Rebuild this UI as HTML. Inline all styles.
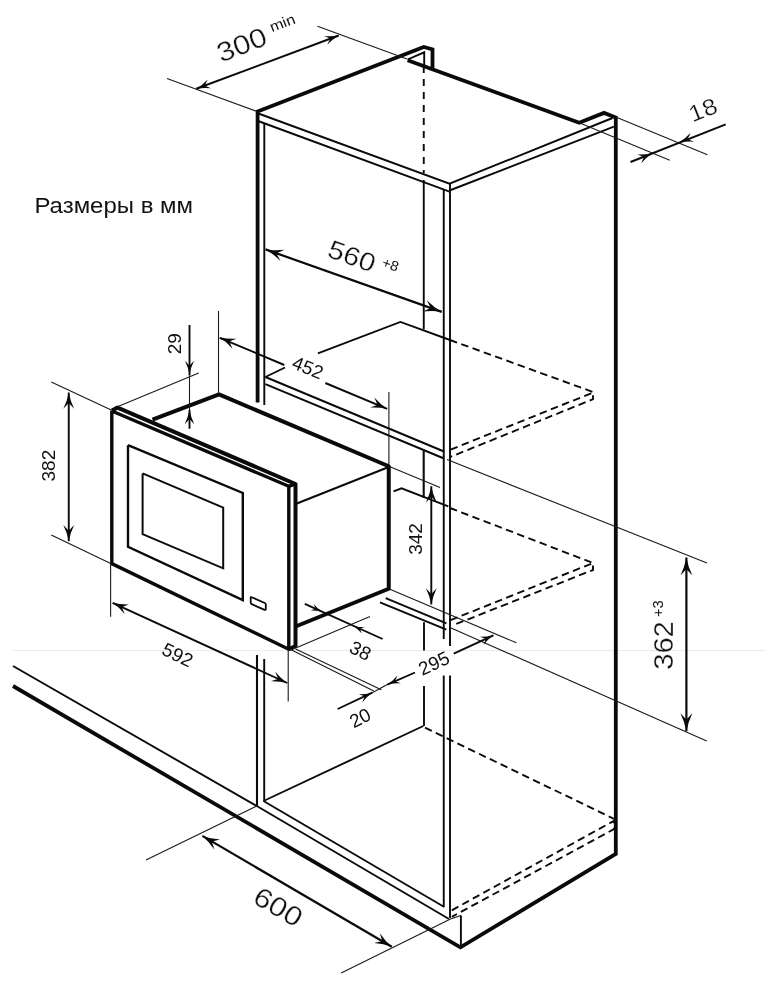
<!DOCTYPE html>
<html lang="ru"><head><meta charset="utf-8"><title>Размеры в мм</title>
<style>
html,body{margin:0;padding:0;background:#fff;}
body{width:765px;height:1000px;overflow:hidden;}
svg{display:block;filter:grayscale(1);}
path{fill:none;stroke:#0a0a0a;stroke-linecap:butt;stroke-linejoin:miter;}
.k{stroke-width:3.8;}
.kk{stroke-width:4.0;stroke-linejoin:round;}
.k3{stroke-width:3.4;stroke-linejoin:round;}
.m2{stroke-width:2.1;}
.r1{stroke-width:2.4;}
.r2{stroke-width:2.0;}
.m{stroke-width:1.9;}
.rb{stroke-width:1.8;stroke-linejoin:round;}
.d{stroke-width:1.9;}
.d2{stroke-width:2.2;}
.n{stroke-width:1.1;stroke:#1a1a1a;}
.g{stroke-width:1;stroke:#ebebeb;}
.ah{fill:#0a0a0a;stroke:none;}
text{fill:#111;}
.t1{stroke:#fff;stroke-width:0.3;}
.t3{font-family:"Liberation Sans","DejaVu Sans",sans-serif;}
.t1{font-family:"Liberation Sans","DejaVu Sans",sans-serif;}
.t2{font-family:"Liberation Sans","DejaVu Sans",sans-serif;}
</style></head><body>
<svg width="765" height="1000" viewBox="0 0 765 1000">
<rect width="765" height="1000" fill="#fff"/>
<path class="g" d="M13.00,650.50 L765.00,650.50"/>
<path class="k" d="M257.60,402.50 L257.60,111.50 L423.75,47.00 L432.50,49.50 L432.50,69.50"/>
<path class="k" d="M407.60,60.30 L579.20,122.70 L604.00,112.90 L615.80,117.50 L615.80,854.00 L460.40,947.30 L13.00,686.00"/>
<path class="m2" d="M257.00,655.00 L257.00,806.00"/>
<path class="m" d="M257.00,113.00 L449.50,183.75 L612.50,118.00"/>
<path class="m" d="M258.75,121.25 L449.50,191.60"/>
<path class="m" d="M449.50,190.50 L613.90,126.60"/>
<path class="m" d="M264.30,123.50 L264.30,405.00"/>
<path class="m" d="M264.20,659.00 L264.20,801.00"/>
<path class="m" d="M443.75,189.50 L443.75,639.00"/>
<path class="m" d="M443.75,675.50 L443.75,907.00"/>
<path class="m" d="M450.00,183.75 L450.00,646.00"/>
<path class="m" d="M450.00,675.50 L450.00,918.00"/>
<path class="m" d="M407.60,59.50 L424.20,52.30 L424.20,66.00"/>
<path class="m" d="M423.75,66.00 L423.75,173.00" stroke-dasharray="7 6"/>
<path class="m" d="M423.75,180.00 L423.75,329.30"/>
<path class="m" d="M265.40,377.00 L285.00,367.50"/>
<path class="m" d="M317.90,353.40 L400.40,321.90 L450.00,340.00"/>
<path class="m" d="M450.00,340.00 L593.00,392.00" stroke-dasharray="7.5 4.5"/>
<path class="m" d="M265.40,377.00 L444.00,451.50"/>
<path class="m" d="M265.40,384.20 L444.00,458.50"/>
<path class="m" d="M450.60,449.60 L593.00,392.60 L593.00,399.20 L450.60,456.80" stroke-dasharray="7.5 4.5"/>
<path class="n" d="M447.00,459.60 L707.00,563.00"/>
<path class="m2" d="M423.70,451.00 L423.70,498.00"/>
<path class="m" d="M393.50,491.30 L401.50,488.30 L448.30,506.30"/>
<path class="m" d="M450.00,508.00 L593.00,563.00" stroke-dasharray="7.5 4.5"/>
<path class="n" d="M388.75,466.30 L440.00,487.50"/>
<path class="m" d="M385.70,598.20 L446.40,623.30"/>
<path class="m" d="M380.00,602.40 L446.40,629.60"/>
<path class="m" d="M450.50,620.20 L593.00,563.00 L593.00,570.00 L452.60,625.40" stroke-dasharray="7.5 4.5"/>
<path class="n" d="M450.00,627.50 L706.70,741.00"/>
<path class="n" d="M389.90,589.20 L516.40,642.80"/>
<path class="m" d="M424.00,622.30 L424.00,650.50"/>
<path class="m" d="M424.00,686.00 L424.00,726.00"/>
<path class="m" d="M263.50,801.00 L423.30,726.00"/>
<path class="m" d="M425.00,727.70 L613.90,818.80" stroke-dasharray="7.5 4.5"/>
<path class="m" d="M263.50,801.00 L444.30,907.00"/>
<path class="m" d="M13.00,666.00 L256.80,806.00 L449.00,919.00"/>
<path class="m" d="M451.80,910.30 L613.90,820.80 L613.90,829.20 L451.80,916.80" stroke-dasharray="7.5 4.5"/>
<path class="n" d="M450.50,919.00 L460.90,915.50"/>
<path class="m" d="M460.90,915.50 L460.90,947.00"/>
<path class="k3" d="M111.80,410.50 L111.80,563.60 L288.80,649.30 L288.80,486.30 L111.80,411.00"/>
<path class="kk" d="M111.80,410.50 L117.50,407.60 L295.50,484.00 L295.50,646.00 L288.80,649.30"/>
<path class="k3" d="M288.80,486.30 L295.50,484.00"/>
<path class="r1" d="M128.00,445.20 L242.80,493.00 L242.80,600.00 L128.00,546.80 L128.00,445.20"/>
<path class="r2" d="M142.60,473.40 L223.20,507.60 L223.20,568.30 L142.60,534.20 L142.60,473.40"/>
<path class="rb" d="M251.7,597.2 L264.8,603 Q265.8,603.5 265.8,604.6 L265.8,609 Q265.8,610.3 264.6,609.8 L251.7,604.2 Q250.7,603.7 250.7,602.6 L250.7,597.8 Q250.7,596.7 251.7,597.2Z"/>
<path class="kk" d="M152.50,419.70 L219.00,394.40 L388.75,466.25 L388.75,588.75 L296.25,626.25"/>
<path class="m" d="M296.25,503.75 L388.75,467.00"/>
<path class="n" d="M167.00,78.50 L257.00,111.50"/>
<path class="n" d="M317.50,26.25 L407.00,59.00"/>
<path class="d" d="M196.25,88.75 L338.75,35.50"/>
<path class="ah" transform="translate(196.25,88.75) rotate(159.51) scale(0.78)" d="M0,0 Q-9,-1.6 -18,-6 Q-14.5,-2.6 -12.5,-0.9 L-12.5,0.9 Q-14.5,2.6 -18,6 Q-9,1.6 0,0Z"/>
<path class="ah" transform="translate(338.75,35.50) rotate(-20.49) scale(0.78)" d="M0,0 Q-9,-1.6 -18,-6 Q-14.5,-2.6 -12.5,-0.9 L-12.5,0.9 Q-14.5,2.6 -18,6 Q-9,1.6 0,0Z"/>
<path class="n" d="M617.00,117.50 L707.40,154.70"/>
<path class="n" d="M579.20,122.70 L669.80,160.20"/>
<path class="d" d="M630.50,162.00 L725.70,124.30"/>
<path class="ah" transform="translate(652.50,153.20) rotate(-23.54) scale(0.8)" d="M0,0 Q-9,-1.6 -18,-6 Q-14.5,-2.6 -12.5,-0.9 L-12.5,0.9 Q-14.5,2.6 -18,6 Q-9,1.6 0,0Z"/>
<path class="ah" transform="translate(679.00,142.60) rotate(158.41) scale(0.8)" d="M0,0 Q-9,-1.6 -18,-6 Q-14.5,-2.6 -12.5,-0.9 L-12.5,0.9 Q-14.5,2.6 -18,6 Q-9,1.6 0,0Z"/>
<path class="d2" d="M265.50,249.40 L441.80,311.90"/>
<path class="ah" transform="translate(265.50,249.40) rotate(-160.48) scale(1.0)" d="M0,0 Q-9,-1.6 -18,-6 Q-14.5,-2.6 -12.5,-0.9 L-12.5,0.9 Q-14.5,2.6 -18,6 Q-9,1.6 0,0Z"/>
<path class="ah" transform="translate(441.80,311.90) rotate(19.52) scale(1.0)" d="M0,0 Q-9,-1.6 -18,-6 Q-14.5,-2.6 -12.5,-0.9 L-12.5,0.9 Q-14.5,2.6 -18,6 Q-9,1.6 0,0Z"/>
<path class="n" d="M218.50,311.00 L218.50,394.00"/>
<path class="n" d="M388.90,392.00 L388.90,466.00"/>
<path class="d" d="M219.70,337.80 L284.30,365.00"/>
<path class="ah" transform="translate(219.70,337.30) rotate(-156.79) scale(0.9)" d="M0,0 Q-9,-1.6 -18,-6 Q-14.5,-2.6 -12.5,-0.9 L-12.5,0.9 Q-14.5,2.6 -18,6 Q-9,1.6 0,0Z"/>
<path class="d" d="M325.30,383.00 L387.20,408.80"/>
<path class="ah" transform="translate(387.20,408.80) rotate(22.63) scale(0.9)" d="M0,0 Q-9,-1.6 -18,-6 Q-14.5,-2.6 -12.5,-0.9 L-12.5,0.9 Q-14.5,2.6 -18,6 Q-9,1.6 0,0Z"/>
<path class="n" d="M118.00,406.50 L198.75,373.00"/>
<path class="d" d="M189.50,325.00 L189.50,375.50"/>
<path class="ah" transform="translate(189.50,374.50) rotate(90.00) scale(0.76)" d="M0,0 Q-9,-1.6 -18,-6 Q-14.5,-2.6 -12.5,-0.9 L-12.5,0.9 Q-14.5,2.6 -18,6 Q-9,1.6 0,0Z"/>
<path class="d" d="M189.50,410.00 L189.50,428.75"/>
<path class="ah" transform="translate(189.50,409.80) rotate(-90.00) scale(0.8)" d="M0,0 Q-9,-1.6 -18,-6 Q-14.5,-2.6 -12.5,-0.9 L-12.5,0.9 Q-14.5,2.6 -18,6 Q-9,1.6 0,0Z"/>
<path class="n" d="M189.50,375.50 L189.50,410.00"/>
<path class="n" d="M51.25,382.00 L111.25,410.00"/>
<path class="n" d="M51.25,535.00 L111.25,563.75"/>
<path class="d" d="M68.75,392.50 L68.75,541.25"/>
<path class="ah" transform="translate(68.75,392.50) rotate(-90.00) scale(0.9)" d="M0,0 Q-9,-1.6 -18,-6 Q-14.5,-2.6 -12.5,-0.9 L-12.5,0.9 Q-14.5,2.6 -18,6 Q-9,1.6 0,0Z"/>
<path class="ah" transform="translate(68.75,541.25) rotate(90.00) scale(0.9)" d="M0,0 Q-9,-1.6 -18,-6 Q-14.5,-2.6 -12.5,-0.9 L-12.5,0.9 Q-14.5,2.6 -18,6 Q-9,1.6 0,0Z"/>
<path class="n" d="M110.60,563.60 L110.60,616.80"/>
<path class="n" d="M288.20,650.00 L288.20,701.40"/>
<path class="d" d="M112.60,602.80 L287.30,683.00"/>
<path class="ah" transform="translate(112.60,602.80) rotate(-155.34) scale(0.87)" d="M0,0 Q-9,-1.6 -18,-6 Q-14.5,-2.6 -12.5,-0.9 L-12.5,0.9 Q-14.5,2.6 -18,6 Q-9,1.6 0,0Z"/>
<path class="ah" transform="translate(287.30,683.00) rotate(24.66) scale(0.87)" d="M0,0 Q-9,-1.6 -18,-6 Q-14.5,-2.6 -12.5,-0.9 L-12.5,0.9 Q-14.5,2.6 -18,6 Q-9,1.6 0,0Z"/>
<path class="d" d="M431.30,486.25 L431.30,604.50"/>
<path class="ah" transform="translate(431.30,486.25) rotate(-90.00) scale(0.9)" d="M0,0 Q-9,-1.6 -18,-6 Q-14.5,-2.6 -12.5,-0.9 L-12.5,0.9 Q-14.5,2.6 -18,6 Q-9,1.6 0,0Z"/>
<path class="ah" transform="translate(431.30,604.50) rotate(90.00) scale(0.9)" d="M0,0 Q-9,-1.6 -18,-6 Q-14.5,-2.6 -12.5,-0.9 L-12.5,0.9 Q-14.5,2.6 -18,6 Q-9,1.6 0,0Z"/>
<path class="n" d="M291.00,650.00 L370.00,616.50"/>
<path class="d" d="M304.80,603.90 L382.60,639.00"/>
<path class="ah" transform="translate(322.00,611.70) rotate(24.39) scale(0.6)" d="M0,0 Q-9,-1.6 -18,-6 Q-14.5,-2.6 -12.5,-0.9 L-12.5,0.9 Q-14.5,2.6 -18,6 Q-9,1.6 0,0Z"/>
<path class="ah" transform="translate(353.50,625.90) rotate(-155.76) scale(0.6)" d="M0,0 Q-9,-1.6 -18,-6 Q-14.5,-2.6 -12.5,-0.9 L-12.5,0.9 Q-14.5,2.6 -18,6 Q-9,1.6 0,0Z"/>
<path class="n" d="M295.60,649.00 L381.30,689.70"/>
<path class="n" d="M289.60,649.00 L373.80,691.00"/>
<path class="d" d="M337.70,709.00 L372.30,692.70"/>
<path class="ah" transform="translate(372.30,692.70) rotate(-25.23) scale(0.72)" d="M0,0 Q-9,-1.6 -18,-6 Q-14.5,-2.6 -12.5,-0.9 L-12.5,0.9 Q-14.5,2.6 -18,6 Q-9,1.6 0,0Z"/>
<path class="n" d="M372.30,692.70 L387.30,684.60"/>
<path class="d" d="M387.30,684.60 L415.00,672.50"/>
<path class="ah" transform="translate(387.30,684.60) rotate(156.40) scale(0.72)" d="M0,0 Q-9,-1.6 -18,-6 Q-14.5,-2.6 -12.5,-0.9 L-12.5,0.9 Q-14.5,2.6 -18,6 Q-9,1.6 0,0Z"/>
<path class="d" d="M453.70,653.70 L493.40,635.30"/>
<path class="ah" transform="translate(493.40,635.30) rotate(-24.87) scale(0.72)" d="M0,0 Q-9,-1.6 -18,-6 Q-14.5,-2.6 -12.5,-0.9 L-12.5,0.9 Q-14.5,2.6 -18,6 Q-9,1.6 0,0Z"/>
<path class="d2" d="M686.40,557.50 L686.40,731.25"/>
<path class="ah" transform="translate(686.40,557.50) rotate(-90.00) scale(1.0)" d="M0,0 Q-9,-1.6 -18,-6 Q-14.5,-2.6 -12.5,-0.9 L-12.5,0.9 Q-14.5,2.6 -18,6 Q-9,1.6 0,0Z"/>
<path class="ah" transform="translate(686.40,731.25) rotate(90.00) scale(1.0)" d="M0,0 Q-9,-1.6 -18,-6 Q-14.5,-2.6 -12.5,-0.9 L-12.5,0.9 Q-14.5,2.6 -18,6 Q-9,1.6 0,0Z"/>
<path class="n" d="M146.00,860.00 L256.80,806.00"/>
<path class="n" d="M341.20,972.90 L450.50,919.00"/>
<path class="d2" d="M202.40,835.90 L391.80,946.80"/>
<path class="ah" transform="translate(202.40,835.90) rotate(-149.65) scale(0.95)" d="M0,0 Q-9,-1.6 -18,-6 Q-14.5,-2.6 -12.5,-0.9 L-12.5,0.9 Q-14.5,2.6 -18,6 Q-9,1.6 0,0Z"/>
<path class="ah" transform="translate(391.80,946.80) rotate(30.35) scale(0.95)" d="M0,0 Q-9,-1.6 -18,-6 Q-14.5,-2.6 -12.5,-0.9 L-12.5,0.9 Q-14.5,2.6 -18,6 Q-9,1.6 0,0Z"/>
<text class="t3" font-size="22.3" text-anchor="start" transform="translate(34.40,213.20) rotate(0) scale(1.075,1)">Размеры в мм</text>
<text class="t1" font-size="27" text-anchor="middle" transform="translate(245.06,53.42) rotate(-21) scale(1.15,1)">300</text>
<text class="t3" font-size="14.5" text-anchor="middle" transform="translate(284.15,27.62) rotate(-21) scale(1.12,1)">min</text>
<text class="t1" font-size="26" text-anchor="middle" transform="translate(348.92,264.45) rotate(20) scale(1.12,1)">560</text>
<text class="t3" font-size="14" text-anchor="middle" transform="translate(388.79,269.01) rotate(20) scale(1.05,1)">+8</text>
<text class="t1" font-size="23" text-anchor="middle" transform="translate(705.88,117.23) rotate(-22) scale(1.12,1)">18</text>
<text class="t1" font-size="27" text-anchor="middle" transform="translate(673.42,645.50) rotate(-90) scale(1.08,1)">362</text>
<text class="t3" font-size="14" text-anchor="middle" transform="translate(662.51,608.75) rotate(-90) scale(1.05,1)">+3</text>
<text class="t1" font-size="27" text-anchor="middle" transform="translate(273.57,914.87) rotate(30) scale(1.15,1)">600</text>
<text class="t2" font-size="19" text-anchor="middle" transform="translate(54.90,465.60) rotate(-90) scale(1.0,1)">382</text>
<text class="t2" font-size="19" text-anchor="middle" transform="translate(180.80,343.70) rotate(-90) scale(1.0,1)">29</text>
<text class="t2" font-size="19" text-anchor="middle" transform="translate(305.45,373.81) rotate(22) scale(1.0,1)">452</text>
<text class="t2" font-size="19" text-anchor="middle" transform="translate(174.82,660.71) rotate(26) scale(1.0,1)">592</text>
<text class="t2" font-size="19" text-anchor="middle" transform="translate(421.80,539.00) rotate(-90) scale(1.0,1)">342</text>
<text class="t2" font-size="19" text-anchor="middle" transform="translate(357.41,656.56) rotate(27) scale(1.0,1)">38</text>
<text class="t2" font-size="19" text-anchor="middle" transform="translate(363.09,723.66) rotate(-27) scale(1.0,1)">20</text>
<text class="t2" font-size="19" text-anchor="middle" transform="translate(436.67,669.26) rotate(-25) scale(1.0,1)">295</text>
</svg>
</body></html>
